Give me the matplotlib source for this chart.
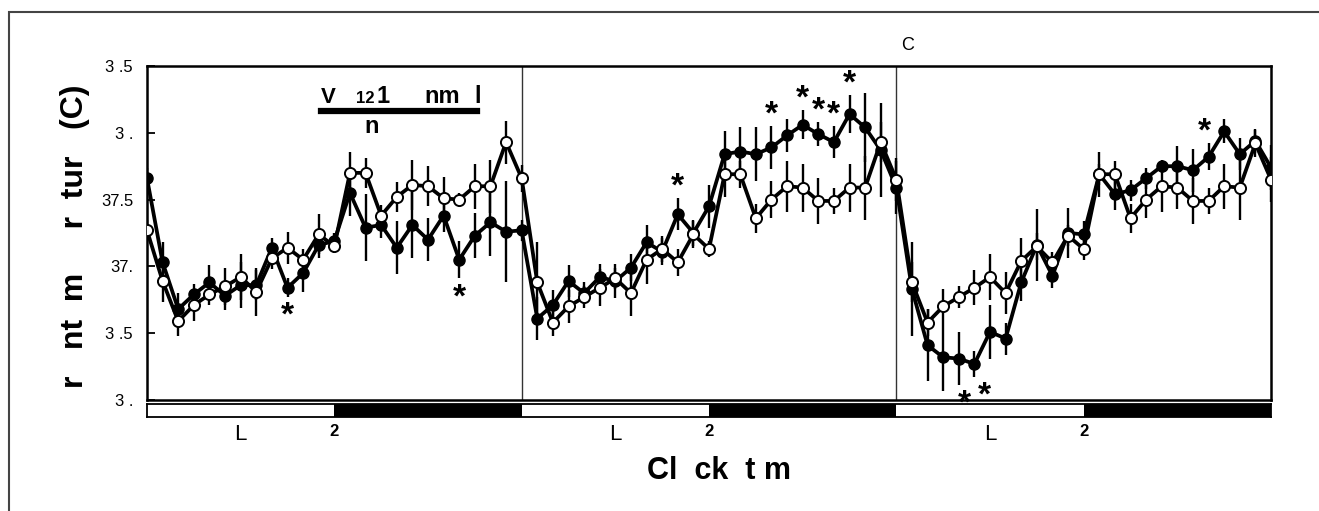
import numpy as np
import matplotlib
matplotlib.use("Agg")
import matplotlib.pyplot as plt
from matplotlib.patches import Rectangle
from matplotlib.lines import Line2D

plt.rcParams['font.family'] = ['Liberation Sans', 'DejaVu Sans']

# clock time, one point per hour over three days
hours = np.arange(73)

# filled circles
filled = [37.66, 37.03, 36.68, 36.79, 36.88, 36.78, 36.86, 36.86, 37.14, 36.84, 36.95, 37.16,
          37.19, 37.55, 37.29, 37.31, 37.14, 37.31, 37.20, 37.38, 37.05, 37.23, 37.33, 37.26,
          37.27, 36.61, 36.71, 36.89, 36.80, 36.92, 36.89, 36.99, 37.18, 37.11, 37.39, 37.25,
          37.45, 37.84, 37.86, 37.84, 37.89, 37.98, 38.06, 37.99, 37.93, 38.14, 38.04, 37.87,
          37.59, 36.83, 36.41, 36.32, 36.31, 36.27, 36.51, 36.46, 36.88, 37.16, 36.93, 37.25,
          37.24, 37.69, 37.54, 37.57, 37.66, 37.75, 37.75, 37.72, 37.82, 38.01, 37.84, 37.94,
          37.74]
filled_sem = [0.08, 0.15, 0.12, 0.08, 0.13, 0.11, 0.17, 0.11, 0.07, 0.07, 0.14, 0.10,
              0.06, 0.17, 0.25, 0.10, 0.20, 0.25, 0.16, 0.12, 0.14, 0.17, 0.25, 0.38,
              0.08, 0.16, 0.11, 0.12, 0.08, 0.10, 0.13, 0.10, 0.13, 0.10, 0.12, 0.10,
              0.16, 0.17, 0.18, 0.20, 0.16, 0.12, 0.11, 0.09, 0.12, 0.14, 0.26, 0.35,
              0.20, 0.35, 0.27, 0.25, 0.20, 0.10, 0.20, 0.12, 0.14, 0.27, 0.09, 0.19,
              0.10, 0.17, 0.12, 0.08, 0.08, 0.05, 0.15, 0.16, 0.10, 0.09, 0.12, 0.09,
              0.17]

# open circles
open_ = [37.27, 36.89, 36.59, 36.71, 36.79, 36.85, 36.92, 36.81, 37.06, 37.14, 37.05, 37.24,
         37.15, 37.70, 37.70, 37.38, 37.52, 37.61, 37.60, 37.51, 37.50, 37.60, 37.60, 37.93,
         37.66, 36.88, 36.58, 36.70, 36.77, 36.84, 36.91, 36.80, 37.05, 37.13, 37.03, 37.24,
         37.13, 37.69, 37.69, 37.36, 37.50, 37.60, 37.59, 37.49, 37.49, 37.59, 37.59, 37.93,
         37.65, 36.88, 36.58, 36.70, 36.77, 36.84, 36.92, 36.80, 37.04, 37.15, 37.03, 37.23,
         37.13, 37.69, 37.69, 37.36, 37.50, 37.60, 37.59, 37.49, 37.49, 37.60, 37.59, 37.92,
         37.65]
open_sem = [0.08, 0.16, 0.11, 0.12, 0.08, 0.14, 0.17, 0.18, 0.08, 0.12, 0.08, 0.15,
            0.05, 0.16, 0.11, 0.08, 0.11, 0.19, 0.15, 0.16, 0.05, 0.17, 0.20, 0.16,
            0.10, 0.30, 0.10, 0.12, 0.08, 0.14, 0.08, 0.17, 0.18, 0.10, 0.10, 0.10,
            0.06, 0.17, 0.10, 0.11, 0.14, 0.19, 0.18, 0.17, 0.10, 0.18, 0.24, 0.15,
            0.16, 0.15, 0.10, 0.13, 0.08, 0.13, 0.17, 0.16, 0.17, 0.10, 0.08, 0.08,
            0.08, 0.08, 0.10, 0.11, 0.14, 0.19, 0.16, 0.17, 0.10, 0.17, 0.24, 0.10,
            0.17]

# significance marks on the filled series: (hour, above?, x shift in pt)
stars = [(9, False, 0), (20, False, 0), (34, True, 0), (40, True, 0), (42, True, 0),
         (43, True, 0), (44, True, 0), (45, True, 0), (52, False, 4), (53, False, 7),
         (68, True, -3)]

yticks = [36.0, 36.5, 37.0, 37.5, 38.0, 38.5]
ytick_labels = ["3 .", "3 .5", "37.", "37.5", "3 .", "3 .5"]
day_starts = [0, 24, 48]
light_len = 12
xtick_pos = [6, 12, 30, 36, 54, 60]
xtick_labels = ["L", "2", "L", "2", "L", "2"]

W, H = 1319, 511
fig = plt.figure(figsize=(W / 100, H / 100), dpi=100)

def fx(px):
    return px / W

def fy(py):
    return 1 - py / H

ax = fig.add_axes([fx(147), fy(400), fx(1271) - fx(147), fy(66) - fy(400)])

ax.errorbar(hours, filled, yerr=filled_sem, fmt='none', ecolor='black', elinewidth=1.7, capsize=0, zorder=2)
ax.errorbar(hours, open_, yerr=open_sem, fmt='none', ecolor='black', elinewidth=1.7, capsize=0, zorder=2)
ax.plot(hours, filled, '-o', color='black', lw=2.7, ms=8, mfc='black', mec='black', zorder=3)
ax.plot(hours, open_, '-o', color='black', lw=2.7, ms=8, mfc='white', mec='black', mew=1.4, zorder=4)

for h, above, dx in stars:
    if above:
        y = filled[h] + filled_sem[h]
        ax.annotate('*', (h, y), xytext=(dx, -3), textcoords='offset points',
                    ha='center', va='bottom', fontsize=24, fontweight='bold')
    else:
        y = filled[h] - filled_sem[h]
        ax.annotate('*', (h, y), xytext=(dx, -25), textcoords='offset points',
                    ha='center', va='bottom', fontsize=24, fontweight='bold')

for d in day_starts[1:]:
    ax.axvline(d, color='#333333', lw=1.0, zorder=1)

ax.set_xlim(0, 72)
ax.set_ylim(36.0, 38.5)
ax.set_xticks([])
ax.set_yticks(yticks)
ax.set_yticklabels(ytick_labels, fontsize=12)
ax.tick_params(axis='y', direction='in', length=6, width=1.3, pad=10)
for s in ax.spines.values():
    s.set_linewidth(1.8)

fig.text(fx(75), fy(236), "r   nt  m     r  tur   (C)", rotation=90, ha='center', va='center',
         fontsize=23, fontweight='bold')

# light / dark bar
bx = fig.add_axes([fx(147), fy(417), fx(1271) - fx(147), fy(404) - fy(417)])
bx.barh(0, [light_len] * 3, left=day_starts, height=1, color='white', edgecolor='none')
bx.barh(0, [24 - light_len] * 3, left=[d + light_len for d in day_starts], height=1, color='black', edgecolor='none')
bx.set_xlim(0, 72)
bx.set_ylim(-0.5, 0.5)
bx.set_yticks([])
bx.set_xticks(xtick_pos)
bx.set_xticklabels(xtick_labels)
bx.tick_params(axis='x', length=0, pad=5)
for lab in bx.get_xticklabels():
    if lab.get_text() == "L":
        lab.set_fontsize(16)
    else:
        lab.set_fontsize(12)
        lab.set_fontweight('bold')
for s in bx.spines.values():
    s.set_linewidth(1.3)

fig.text(fx(719), fy(471), "Cl  ck  t m", ha='center', va='center', fontsize=22, fontweight='bold')

# legend text inside first panel
fig.text(fx(321), fy(103), "V", ha='left', va='baseline', fontsize=16, fontweight='bold')
fig.text(fx(356), fy(103), "12", ha='left', va='baseline', fontsize=12, fontweight='bold')
fig.text(fx(376), fy(103), "1", ha='left', va='baseline', fontsize=17, fontweight='bold')
fig.text(fx(424), fy(103), "nm", ha='left', va='baseline', fontsize=17, fontweight='bold')
fig.text(fx(474), fy(103), "l", ha='left', va='baseline', fontsize=17, fontweight='bold')
fig.add_artist(Line2D([fx(321), fx(477)], [fy(111), fy(111)], color='black', lw=4.5))
fig.text(fx(372), fy(133), "n", ha='center', va='baseline', fontsize=17, fontweight='bold')

fig.text(fx(908), fy(45), "C", ha='center', va='center', fontsize=13)

# outer frame (only left and top edges fall inside the picture)
fig.add_artist(Rectangle((fx(9), -0.1), 1.2, fy(12) + 0.1, transform=fig.transFigure,
                         fill=False, edgecolor='#444444', lw=1.5))

fig.savefig("out.png", dpi=100)
